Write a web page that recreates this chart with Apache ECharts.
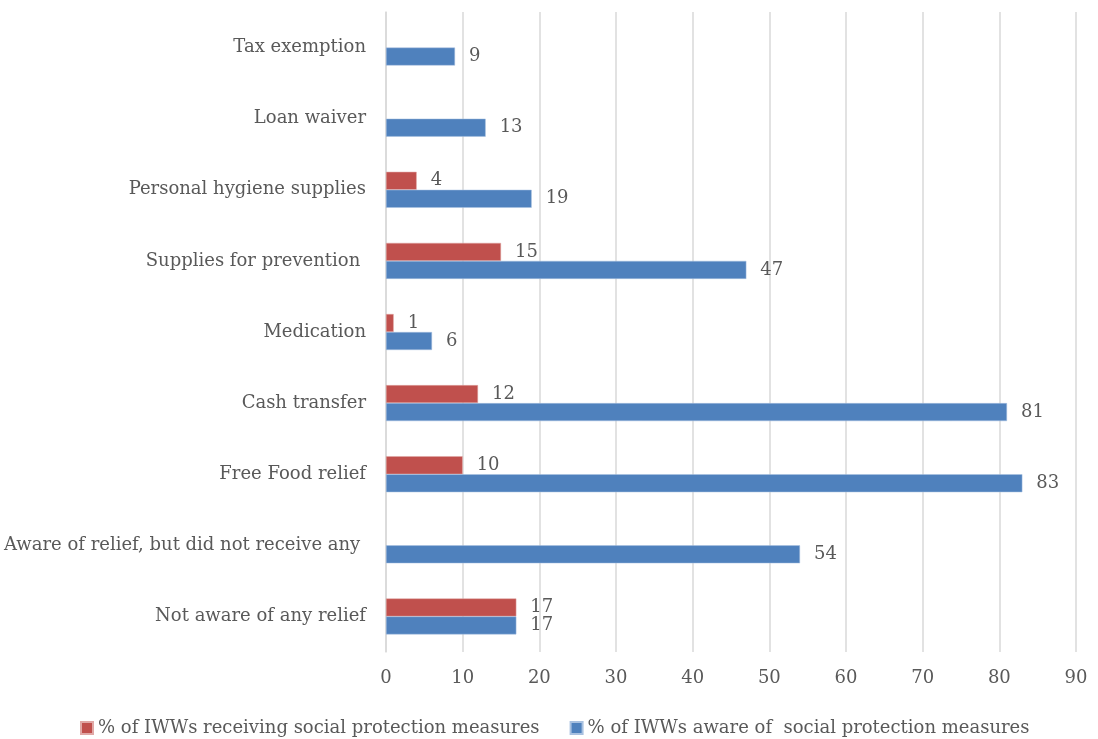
<!DOCTYPE html>
<html>
<head>
<meta charset="utf-8">
<script src="https://cdn.jsdelivr.net/npm/echarts@6/dist/echarts.min.js"></script>
<style>html,body{margin:0;padding:0;background:#fff;}#c{width:1098px;height:739px;}</style>
</head>
<body>
<div id="c"></div>
<script>
const categories = ["Not aware of any relief", "Aware of relief, but did not receive any ", "Free Food relief", "Cash transfer", "Medication", "Supplies for prevention ", "Personal hygiene supplies", "Loan waiver", "Tax exemption"];
const receiving = [17, null, 10, 12, 1, 15, 4, null, null];
const aware = [17, 54, 83, 81, 6, 47, 19, 13, 9];
const xTicks = { min: 0, max: 90, interval: 10 };
const nameReceiving = "% of IWWs receiving social protection measures";
const nameAware = "% of IWWs aware of  social protection measures";

const FONT = "DejaVu Serif";
const TXT = "#595959";
const FS = 18;
const chart = echarts.init(document.getElementById('c'));
const labelCfg = { show: true, position: 'right', distance: 14, color: TXT, fontFamily: FONT, fontSize: FS };
chart.setOption({
  animation: false,
  textStyle: { fontFamily: FONT },
  grid: { left: 386, right: 22, top: 12, bottom: 87 },
  legend: {
    data: [nameReceiving, nameAware],
    top: 714, left: 75,
    itemWidth: 12, itemHeight: 12, itemGap: 30,
    icon: 'rect',
    textStyle: { color: TXT, fontFamily: FONT, fontSize: FS }
  },
  xAxis: {
    type: 'value', min: xTicks.min, max: xTicks.max, interval: xTicks.interval,
    axisLine: { show: false }, axisTick: { show: false },
    axisLabel: { color: TXT, fontFamily: FONT, fontSize: FS, margin: 17 },
    splitLine: { lineStyle: { color: '#d9d9d9', width: 1.5 } }
  },
  yAxis: {
    type: 'category', data: categories,
    axisLine: { show: true, lineStyle: { color: '#d9d9d9', width: 1.5 } },
    axisTick: { show: false },
    axisLabel: { color: TXT, fontFamily: FONT, fontSize: FS, margin: 20 }
  },
  series: [
    {
      name: nameReceiving, type: 'bar', data: receiving, barWidth: 18, barGap: '0%',
      itemStyle: { color: '#C0504D', borderColor: '#e0a8a6', borderWidth: 0.5 },
      label: labelCfg
    },
    {
      name: nameAware, type: 'bar', data: aware, barWidth: 18, barGap: '0%',
      itemStyle: { color: '#4F81BD', borderColor: '#a9c1e0', borderWidth: 0.5 },
      label: labelCfg
    }
  ]
});
</script>
</body>
</html>
